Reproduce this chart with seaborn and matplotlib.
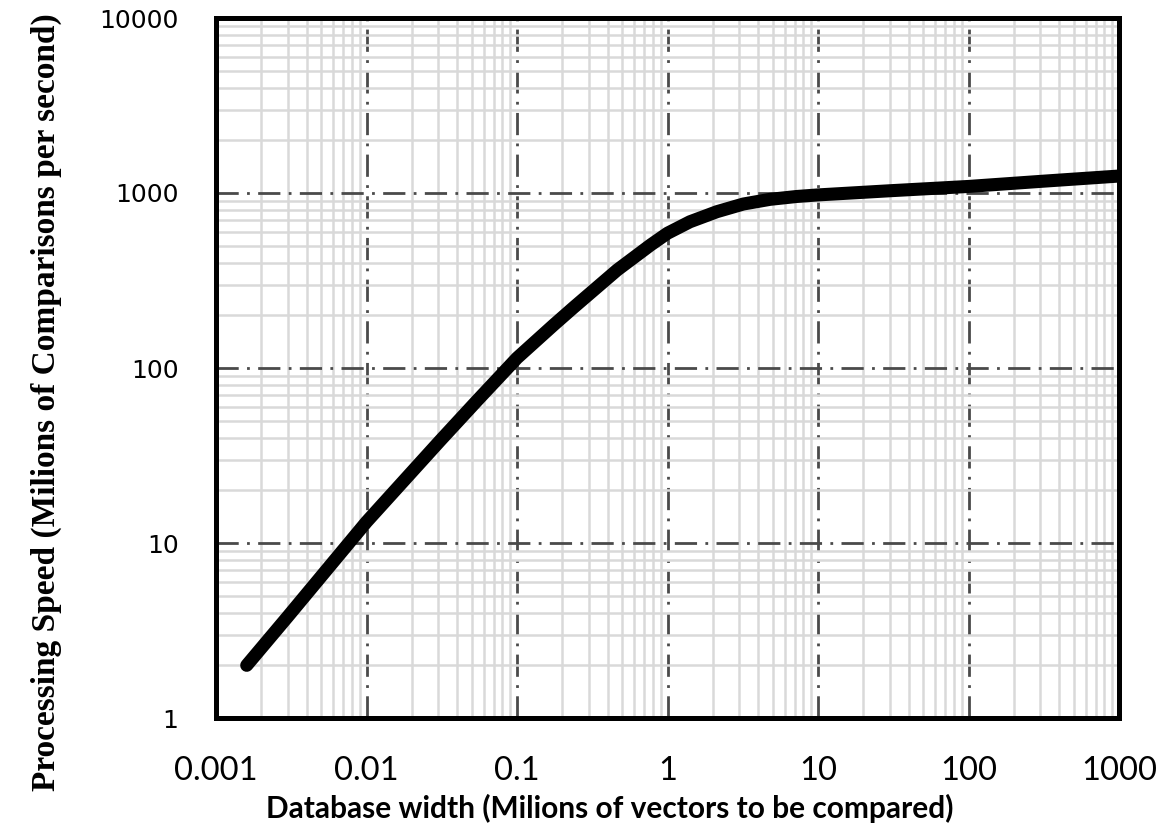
import matplotlib
matplotlib.use("Agg")
import matplotlib.pyplot as plt
import seaborn as sns
import numpy as np
import pandas as pd
from matplotlib.ticker import LogLocator, FixedLocator, NullFormatter

# Data
db_width = [0.0016, 0.003, 0.01, 0.0309, 0.0542, 0.1, 0.175, 0.238, 0.463, 0.773,
            1.0, 1.41, 2.13, 3.19, 4.8, 7.2, 10, 30, 100, 300, 1000]
speed = [2.0, 3.8, 13.2, 38.5, 65.0, 114, 176, 222, 363, 505,
         589, 685, 782, 865, 920, 955, 975, 1030, 1090, 1165, 1250]
x_ticks = [0.001, 0.01, 0.1, 1, 10, 100, 1000]
x_tick_labels = ["0.001", "0.01", "0.1", "1", "10", "100", "1000"]
y_ticks = [1, 10, 100, 1000, 10000]
y_tick_labels = ["1", "10", "100", "1000", "10000"]

df = pd.DataFrame({"x": db_width, "y": speed})

sns.set_style("white")
plt.rcParams['font.family'] = ['DejaVu Sans']
plt.rcParams['text.color'] = 'black'
plt.rcParams['axes.labelcolor'] = 'black'
plt.rcParams['xtick.color'] = 'black'
plt.rcParams['ytick.color'] = 'black'

fig = plt.figure(figsize=(11.58, 8.30), dpi=100)
ax = fig.add_axes([216/1158, 1 - 718/830, (1119-216)/1158, (718-18)/830])

ax.set_xscale("log")
ax.set_yscale("log")
ax.set_xlim(0.001, 1000)
ax.set_ylim(1, 10000)

ax.xaxis.set_minor_locator(LogLocator(base=10, subs=np.arange(2, 10), numticks=100))
ax.yaxis.set_minor_locator(LogLocator(base=10, subs=np.arange(2, 10), numticks=100))
ax.xaxis.set_minor_formatter(NullFormatter())
ax.yaxis.set_minor_formatter(NullFormatter())

ax.grid(True, which="minor", color="#d9d9d9", linewidth=1.8, linestyle="-", zorder=0)
ax.grid(True, which="major", color="#4a4a4a", linewidth=2.0, linestyle=(0, (8, 3, 1, 3)), zorder=1)
ax.set_axisbelow(True)

sns.lineplot(data=df, x="x", y="y", ax=ax, color="black", linewidth=9.4,
             solid_capstyle="round", solid_joinstyle="round", zorder=3, legend=False)

ax.xaxis.set_major_locator(FixedLocator(x_ticks))
ax.yaxis.set_major_locator(FixedLocator(y_ticks))
ax.set_xticklabels(x_tick_labels, family=['Lato', 'DejaVu Sans'], fontsize=23.5)
ax.set_yticklabels(y_tick_labels, fontsize=18)

ax.tick_params(which="both", direction="in")
ax.tick_params(which="major", length=0)
ax.tick_params(axis="y", which="major", pad=27)
ax.tick_params(axis="x", which="major", pad=27)
ax.tick_params(which="minor", length=7, width=2.2, color="black")

for sp in ax.spines.values():
    sp.set_visible(True)
    sp.set_color("black")
    sp.set_linewidth(3.6)

ax.set_xlabel("Database width (Milions of vectors to be compared)",
              family=['Lato', 'DejaVu Sans'], fontweight="bold", fontsize=21.5)
ax.xaxis.set_label_coords((610 - 216) / 903, (718 - 794) / 700)
ax.set_ylabel("Processing Speed (Milions of Comparisons per second)",
              family=['Liberation Serif', 'DejaVu Serif'], fontweight="bold", fontsize=24)
ax.yaxis.set_label_coords((62 - 216) / 903, (718 - 402) / 700)

fig.savefig("out.png", dpi=100)
